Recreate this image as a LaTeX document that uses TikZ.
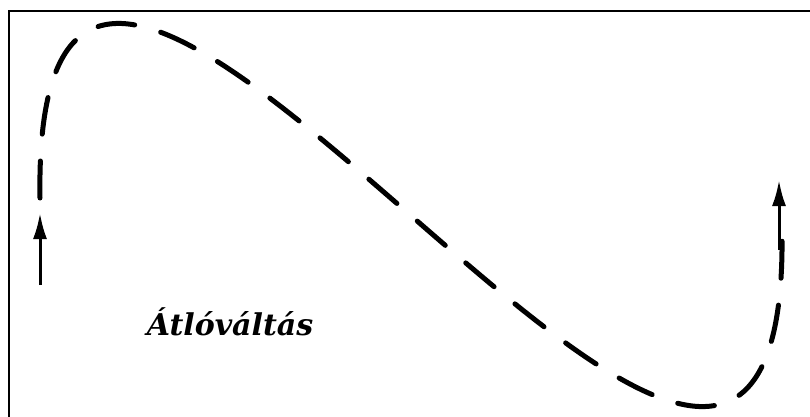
\documentclass[tikz,border=0pt]{standalone}
\usepackage{fontspec}
\newfontfamily\labelfont{DejaVu Serif}
\usetikzlibrary{arrows.meta}
\tikzset{
  pathline/.style={line width=5pt, line cap=round, dash pattern=on 37pt off 27pt},
  entryarrow/.style={line width=3pt, -{Latex[length=26pt,width=14pt]}},
  caption/.style={font=\labelfont\bfseries\itshape\fontsize{30}{36}\selectfont}
}
\begin{document}
\begin{tikzpicture}[x=1pt,y=-1pt]
  \useasboundingbox (0,0) rectangle (810,416);
  \begin{scope}
    \clip (0,0) rectangle (810,416);
    \draw[line width=1.3pt] (9,11) rectangle (830,440);
  \end{scope}
  % endpoints of the route
  \coordinate (s) at (40,198);
  \coordinate (e) at (782,232);
  \draw[pathline] (s) .. controls (30,-420) and (790,850) .. (e);
  % arrows
  \coordinate (a1) at (40,285);
  \coordinate (a1t) at (40,213);
  \coordinate (a2) at (779,250);
  \coordinate (a2t) at (779,180);
  \draw[entryarrow] (a1) -- (a1t);
  \draw[entryarrow] (a2) -- (a2t);
  \node[caption] (lbl) at (230,322) {Átlóváltás};
\end{tikzpicture}
\end{document}
